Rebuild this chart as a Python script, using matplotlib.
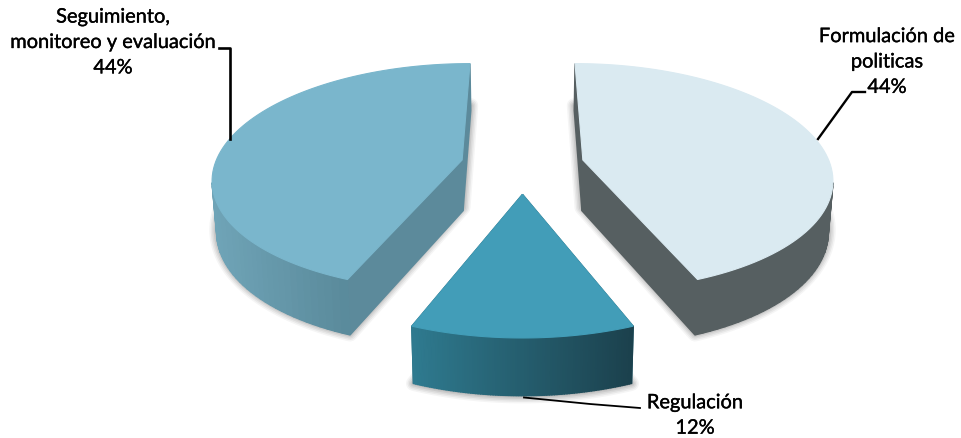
import numpy as np
import matplotlib
matplotlib.use("Agg")
import matplotlib.pyplot as plt
import matplotlib.patheffects as pe
from matplotlib.colors import to_rgb
from matplotlib.patches import Polygon

labels = ["Formulación de\npoliticas", "Regulación", "Seguimiento,\nmonitoreo y evaluación"]
values = [44, 12, 44]
top_colors = ["#DAEAF1", "#429DB8", "#7AB6CC"]
rim_left = ["#565F61", "#2F7B90", "#70A5B8"]
rim_right = ["#565F61", "#1B404C", "#5A8A9B"]
cut_colors = ["#565F61", "#2A6B7E", "#5C8A9B"]
explode = 0.25

# perspective of the pie plane, in pixels
cx, cy = 522.5, 165.2
rx, ry = 247.5, 112.3
k = 0.15


def project(X, Y):
    d = 1 + k * Y
    return np.column_stack([cx + rx * X / d, cy - ry * Y / d])


def extrude(pts, base=47.0, slope=0.039, shrink=0.985):
    out = pts.copy()
    out[:, 0] = cx + (out[:, 0] - cx) * shrink
    out[:, 1] = out[:, 1] + base + (out[:, 1] - 63) * slope
    return out


fig = plt.figure(figsize=(9.61, 4.38), dpi=100)
ax = fig.add_axes([0, 0, 1, 1])
ax.set_xlim(0, 961)
ax.set_ylim(438, 0)
ax.axis("off")

start = 0.0
tops = []
for v in values:
    sweep = v / sum(values) * 2 * np.pi
    t = np.linspace(start, start + sweep, 90)
    mid = start + sweep / 2
    ox, oy = explode * np.sin(mid), explode * np.cos(mid)
    rim = project(ox + np.sin(t), oy + np.cos(t))
    apex = project(np.array([ox]), np.array([oy]))
    tops.append((rim, apex))
    start += sweep

# soft shadow under the slices
for rim, apex in tops:
    outline = np.vstack([apex, rim])
    shadow = extrude(outline, base=42, slope=0.058)
    for lw, a in zip([15, 12, 9, 6, 3], [0.04, 0.05, 0.06, 0.07, 0.08]):
        ax.add_patch(Polygon(shadow, closed=True, facecolor="none", edgecolor="black",
                             lw=lw * 0.72, alpha=a, joinstyle="round", zorder=1))
    ax.add_patch(Polygon(shadow, closed=True, facecolor="#BDBDBD", edgecolor="none", zorder=1))

z = 2
for i, (rim, apex) in enumerate(tops):
    low = extrude(rim)
    low_apex = extrude(apex)
    # only the front part of the rim wall can be seen
    far = np.argmax(np.abs(rim[:, 0] - cx))
    visible = rim[:, 1] >= rim[far, 1] - 0.01
    xa, xb = rim[visible, 0].min(), rim[visible, 0].max()
    c0, c1 = np.array(to_rgb(rim_left[i])), np.array(to_rgb(rim_right[i]))
    quads = []
    for j in range(len(rim) - 1):
        if not (visible[j] and visible[j + 1]):
            continue
        q = np.array([rim[j], rim[j + 1], low[j + 1], low[j]])
        f = np.clip((q[:, 0].mean() - xa) / (xb - xa), 0, 1)
        quads.append((q, tuple(c0 + (c1 - c0) * f)))
    quads.append((np.array([apex[0], rim[0], low[0], low_apex[0]]), to_rgb(cut_colors[i])))
    quads.append((np.array([apex[0], rim[-1], low[-1], low_apex[0]]), to_rgb(cut_colors[i])))
    quads.sort(key=lambda item: item[0][:, 1].mean())
    for q, col in quads:
        ax.add_patch(Polygon(q, closed=True, facecolor=col, edgecolor=col, lw=1.0, zorder=z))
        z += 1
    ax.add_patch(Polygon(np.vstack([apex, rim]), closed=True, facecolor=top_colors[i],
                         edgecolor=top_colors[i], lw=0.8, zorder=z))
    z += 1

# leader lines
ax.plot([219, 230, 230], [48, 48, 139], color="black", lw=1.9, zorder=z)
ax.plot([865, 852, 818], [92, 92, 139], color="black", lw=1.7, zorder=z)
ax.plot([524, 590, 640], [397.5, 404, 408], color="black", lw=1.3, zorder=z)

text_style = dict(ha="center", va="center", family="Lato", fontsize=14.4,
                  color="black", linespacing=1.6, zorder=z + 1,
                  path_effects=[pe.withStroke(linewidth=0.25, foreground="black")])
ax.text(887, 62, f"{labels[0]}\n{values[0]}%", **text_style)
ax.text(695, 415.5, f"{labels[1]}\n{values[1]}%", **text_style)
ax.text(113, 42.5, f"{labels[2]}\n{values[2]}%", **text_style)

fig.savefig("out.png", dpi=100)
plt.close()
